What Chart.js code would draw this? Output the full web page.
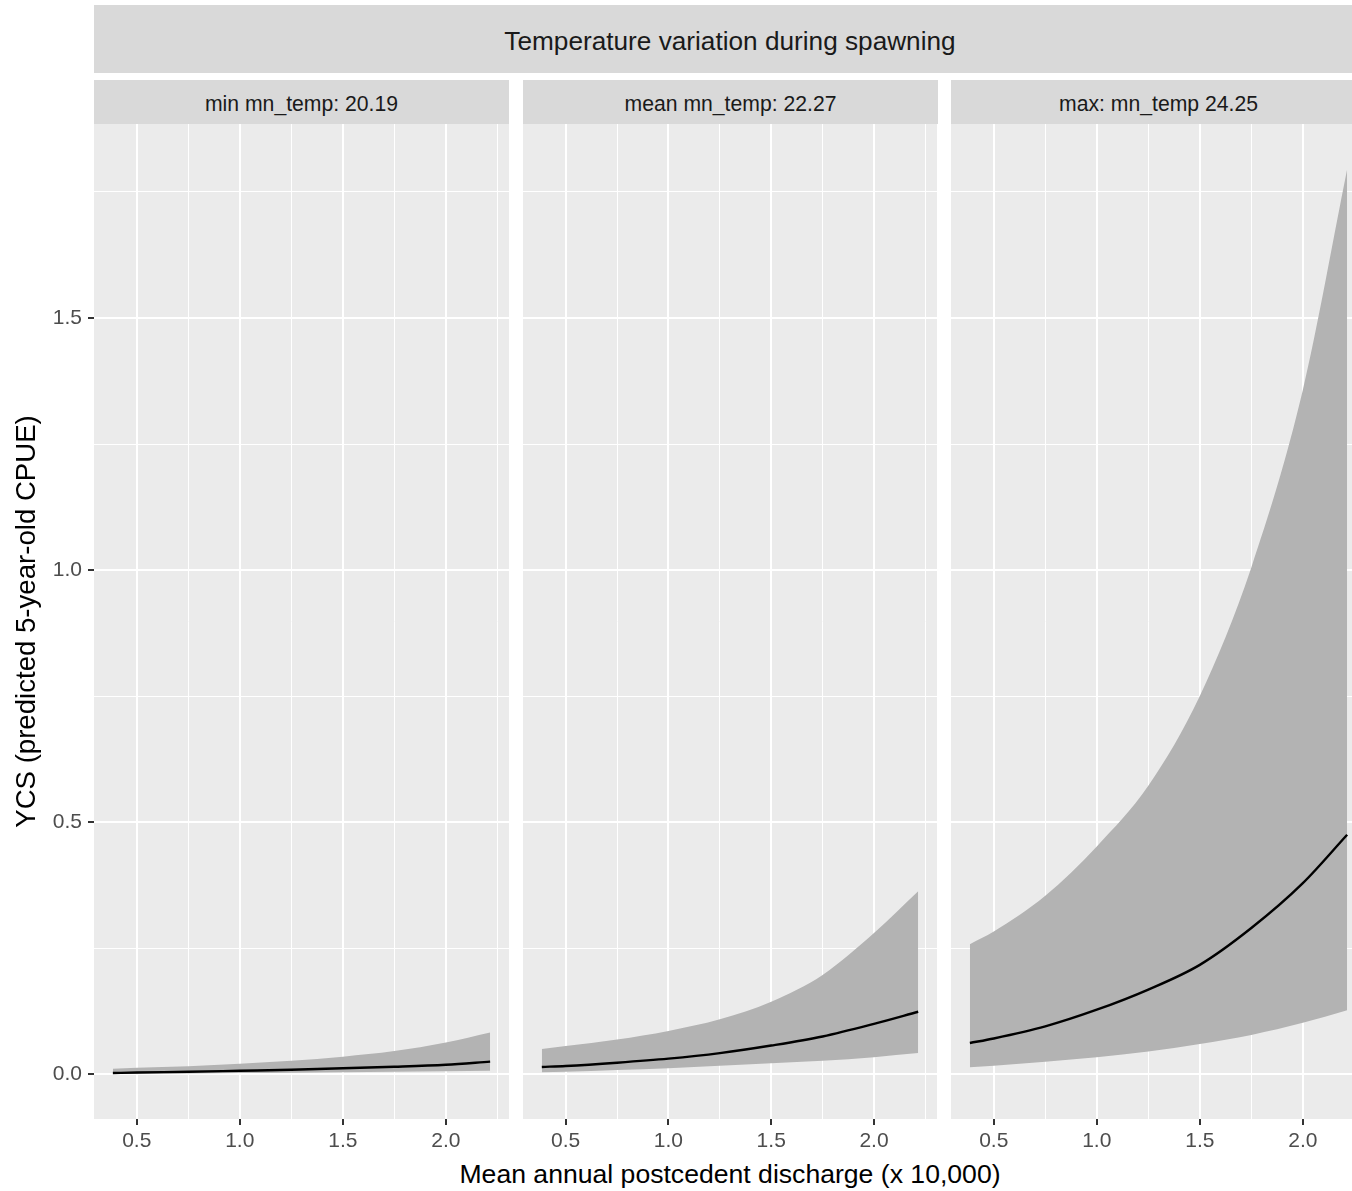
<!DOCTYPE html>
<html>
<head>
<meta charset="utf-8">
<script src="https://cdn.jsdelivr.net/npm/chart.js@4.4.0/dist/chart.umd.min.js"></script>
<style>
  html, body { margin: 0; padding: 0; background: #ffffff; }
  #wrap { position: relative; width: 1352px; height: 1191px; overflow: hidden;
          font-family: "Liberation Sans", Arial, sans-serif; background: #ffffff; }
  .strip { position: absolute; background: #D9D9D9; color: #1A1A1A; text-align: center;
           white-space: nowrap; overflow: hidden; }
  canvas { position: absolute; }
  .xtitle { position: absolute; text-align: center; color: #000; white-space: nowrap; }
</style>
</head>
<body>
<div id="wrap"></div>
<script>
// ---------------- DATA ----------------
const outerTitle = 'Temperature variation during spawning';
const panelTitles = ['min mn_temp: 20.19', 'mean mn_temp: 22.27', 'max: mn_temp 24.25'];
const xTitle = 'Mean annual postcedent discharge (x 10,000)';
const yTitle = 'YCS (predicted 5-year-old CPUE)';

const discharge = [0.384, 0.5, 0.75, 1.0, 1.25, 1.5, 1.75, 2.0, 2.215];

const minFit   = [0.0025, 0.0035, 0.005, 0.007, 0.009, 0.012, 0.015, 0.019, 0.025];
const minUpper = [0.011, 0.013, 0.016, 0.021, 0.027, 0.035, 0.046, 0.063, 0.083];
const minLower = [0.001, 0.0012, 0.0017, 0.0023, 0.003, 0.0038, 0.0048, 0.006, 0.0072];

const meanFit   = [0.0145, 0.0165, 0.023, 0.031, 0.042, 0.057, 0.075, 0.100, 0.124];
const meanUpper = [0.050, 0.056, 0.069, 0.086, 0.109, 0.144, 0.197, 0.280, 0.363];
const meanLower = [0.004, 0.005, 0.0085, 0.012, 0.017, 0.022, 0.027, 0.034, 0.042];

const maxFit   = [0.062, 0.071, 0.095, 0.128, 0.168, 0.217, 0.290, 0.379, 0.475];
const maxUpper = [0.258, 0.283, 0.354, 0.452, 0.572, 0.750, 1.005, 1.357, 1.795];
const maxLower = [0.014, 0.017, 0.025, 0.034, 0.045, 0.060, 0.078, 0.102, 0.127];

const xMajorTicks = [0.5, 1.0, 1.5, 2.0];
const xTickLabels = ['0.5', '1.0', '1.5', '2.0'];
const xMinorTicks = [0.75, 1.25, 1.75, 2.25];
const yMajorTicks = [0, 0.5, 1.0, 1.5];
const yTickLabels = ['0.0', '0.5', '1.0', '1.5'];
const yMinorTicks = [0.25, 0.75, 1.25, 1.75];

// ---------------- LAYOUT / STYLE ----------------
const panels = [
  { fit: minFit,  upper: minUpper,  lower: minLower,  canvasLeft: 0,   canvasWidth: 509, showY: true },
  { fit: meanFit, upper: meanUpper, lower: meanLower, canvasLeft: 523, canvasWidth: 414, showY: false },
  { fit: maxFit,  upper: maxUpper,  lower: maxLower,  canvasLeft: 951, canvasWidth: 415, showY: false }
];
const panelLefts = [94, 523, 951];
const panelWidth = 415;
const FONT = '"Liberation Sans", Arial, sans-serif';
const RIBBON = '#B3B3B3';

// axis ranges with ggplot-like 5% expansion
const xMinD = Math.min(...discharge), xMaxD = Math.max(...discharge);
const xPad = (xMaxD - xMinD) * 0.05;
const allY = [].concat(minFit, minUpper, minLower, meanFit, meanUpper, meanLower, maxFit, maxUpper, maxLower);
const yMinD = Math.min(...allY), yMaxD = Math.max(...allY);
const yPad = (yMaxD - yMinD) * 0.05;

const wrap = document.getElementById('wrap');

// strips
const topStrip = document.createElement('div');
topStrip.className = 'strip';
topStrip.style.cssText = 'left:94px;top:5px;width:1272px;height:68px;font-size:26.2px;line-height:72px;';
topStrip.textContent = outerTitle;
wrap.appendChild(topStrip);

panelTitles.forEach((t, i) => {
  const d = document.createElement('div');
  d.className = 'strip';
  d.style.cssText = `left:${panelLefts[i]}px;top:80px;width:${panelWidth}px;height:44px;font-size:21.2px;line-height:47px;`;
  d.textContent = t;
  wrap.appendChild(d);
});

const xt = document.createElement('div');
xt.className = 'xtitle';
xt.style.cssText = 'left:94px;top:1159px;width:1272px;font-size:26.6px;line-height:30px;';
xt.textContent = xTitle;
wrap.appendChild(xt);

const bgPlugin = {
  id: 'panelBg',
  beforeDraw(chart) {
    const { ctx, chartArea: a } = chart;
    ctx.save();
    ctx.fillStyle = '#EBEBEB';
    ctx.fillRect(a.left, a.top, a.right - a.left, a.bottom - a.top);
    ctx.restore();
  }
};

function isIn(arr, v) { return arr.some(m => Math.abs(m - v) < 1e-9); }
function labelFor(majors, labels, v) {
  const k = majors.findIndex(m => Math.abs(m - v) < 1e-9);
  return k >= 0 ? labels[k] : '';
}

panels.forEach((p) => {
  const c = document.createElement('canvas');
  c.width = p.canvasWidth;
  c.height = 1060;
  c.style.left = p.canvasLeft + 'px';
  c.style.top = '100px';
  c.style.width = p.canvasWidth + 'px';
  c.style.height = '1060px';
  wrap.appendChild(c);

  const pts = arr => discharge.map((x, i) => ({ x: x, y: arr[i] }));

  new Chart(c.getContext('2d'), {
    type: 'line',
    data: {
      datasets: [
        { label: 'fit', data: pts(p.fit), borderColor: '#000000', borderWidth: 2.4,
          pointRadius: 0, fill: false, cubicInterpolationMode: 'monotone' },
        { label: 'upper', data: pts(p.upper), borderColor: 'rgba(0,0,0,0)', borderWidth: 0,
          pointRadius: 0, backgroundColor: RIBBON, fill: '+1', cubicInterpolationMode: 'monotone' },
        { label: 'lower', data: pts(p.lower), borderColor: 'rgba(0,0,0,0)', borderWidth: 0,
          pointRadius: 0, fill: false, cubicInterpolationMode: 'monotone' }
      ]
    },
    options: {
      responsive: false,
      animation: false,
      devicePixelRatio: 1,
      layout: { padding: { top: 24, left: 0, right: 0, bottom: 0 } },
      plugins: { legend: { display: false }, tooltip: { enabled: false }, title: { display: false } },
      scales: {
        x: {
          type: 'linear',
          min: xMinD - xPad,
          max: xMaxD + xPad,
          afterBuildTicks: (s) => {
            s.ticks = xMajorTicks.concat(xMinorTicks)
              .filter(v => v >= s.min && v <= s.max)
              .sort((a, b) => a - b)
              .map(v => ({ value: v }));
          },
          afterFit: (s) => { s.height = 41; },
          border: { display: false },
          grid: {
            color: '#FFFFFF',
            lineWidth: (ctx) => (ctx.tick && isIn(xMajorTicks, ctx.tick.value)) ? 2 : 1,
            drawTicks: true,
            tickLength: 6,
            tickWidth: 2,
            tickColor: (ctx) => (ctx.tick && isIn(xMajorTicks, ctx.tick.value)) ? '#333333' : 'rgba(0,0,0,0)'
          },
          ticks: {
            autoSkip: false, maxRotation: 0, minRotation: 0, padding: 4,
            color: '#4D4D4D', font: { family: FONT, size: 21 },
            callback: (v) => labelFor(xMajorTicks, xTickLabels, v)
          }
        },
        y: {
          type: 'linear',
          min: yMinD - yPad,
          max: yMaxD + yPad,
          afterBuildTicks: (s) => {
            s.ticks = yMajorTicks.concat(yMinorTicks)
              .filter(v => v >= s.min && v <= s.max)
              .sort((a, b) => a - b)
              .map(v => ({ value: v }));
          },
          afterFit: (s) => { s.width = p.showY ? 94 : 0; },
          border: { display: false },
          title: {
            display: p.showY, text: yTitle, color: '#000000',
            font: { family: FONT, size: 27.6 }, padding: { top: 11, bottom: 0 }
          },
          grid: {
            color: '#FFFFFF',
            lineWidth: (ctx) => (ctx.tick && isIn(yMajorTicks, ctx.tick.value)) ? 2 : 1,
            drawTicks: p.showY,
            tickLength: 6,
            tickWidth: 2,
            tickColor: (ctx) => (ctx.tick && isIn(yMajorTicks, ctx.tick.value)) ? '#333333' : 'rgba(0,0,0,0)'
          },
          ticks: {
            display: p.showY,
            autoSkip: false, padding: 6,
            color: '#4D4D4D', font: { family: FONT, size: 21 },
            callback: (v) => labelFor(yMajorTicks, yTickLabels, v)
          }
        }
      }
    },
    plugins: [bgPlugin]
  });
});
</script>
</body>
</html>
